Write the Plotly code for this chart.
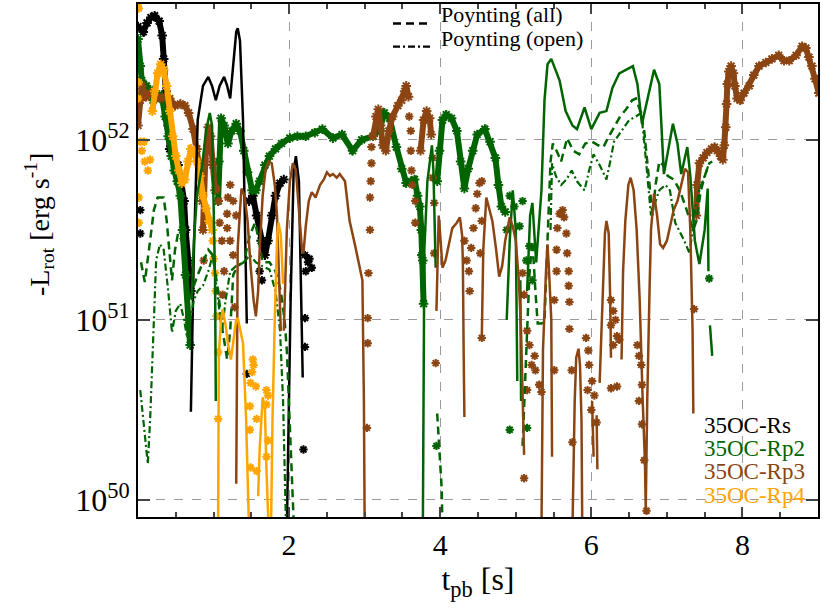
import plotly.graph_objects as go

# t_pb [s] and log10(-L_rot [erg/s]); None = curve leaves the range

# 35OC-Rs (black)
rs_trail_t = [0.00, 0.07, 0.12, 0.17, 0.22, 0.28, 0.32, 0.34, 0.37, 0.40, 0.42, 0.48, 0.53, 0.57, 0.61, 0.63, 0.66, 0.70, None,
              1.47, 1.52, 1.57, 1.63, 1.68, 1.72, 1.77, 1.82, 1.88, 1.93]
rs_trail_lg = [52.63, 52.60, 52.65, 52.68, 52.69, 52.66, 52.58, 52.45, 52.27, 52.08, 51.95, 51.91, 51.86, 51.77, 51.66, 51.50, 51.33, 51.16, None,
               51.66, 51.69, 51.58, 51.44, 51.36, 51.44, 51.58, 51.69, 51.76, 51.78]
rs_dots_t = [0.03, 0.03, 1.44, 1.61, 1.64, 2.21, 2.25, 2.27, 2.30, 2.22, 2.21, 2.21, 2.19]
rs_dots_lg = [51.61, 51.48, 50.70, 51.27, 51.22, 51.36, 51.32, 51.34, 51.29, 51.27, 51.01, 50.85, 50.28]
rs_line_t = [0.70, 0.74, 0.79, 0.86, 0.93, 0.98, 1.03, 1.08, 1.14, 1.18, 1.22, 1.26, 1.30, 1.32, 1.35, 1.39, 1.41, 1.44, None,
             1.97, 2.02, 2.06, 2.09, 2.13, 2.15, 2.18]
rs_line_lg = [50.49, 51.39, 52.11, 52.30, 52.35, 52.30, 52.22, 52.30, 52.35, 52.30, 52.23, 52.44, 52.60, 52.62, 52.55, 52.11, 51.66, 50.98, None,
              49.83, 51.11, 51.83, 51.91, 51.77, 51.33, 50.68]

# 35OC-Rp2 (green)
rp2_trail_t = [0.00, 0.03, 0.05, 0.11, 0.16, 0.20, 0.24, 0.28, 0.32, 0.36, 0.40, 0.44, 0.48, 0.52, 0.56, 0.59, 0.63, 0.67, 0.69, None,
               1.06, 1.07, 1.10, 1.14, 1.19, 1.24, 1.30, 1.35, 1.40, 1.45, 1.51, 1.56, 1.61, 1.68, 1.74, 1.82, 1.90, 2.01, 2.11, 2.22,
               2.34, 2.44, 2.58, 2.70, 2.84, 2.96, 3.11, 3.20, 3.26, 3.33, 3.42, 3.49, 3.55, 3.61, 3.66, 3.70, 3.73, 3.75, 3.77, 3.78, None,
               3.96, 3.99, 4.03, 4.08, 4.15, 4.22, 4.27, 4.32, 4.37, 4.43, 4.49, 4.59, 4.66, 4.73, 4.77, 4.81, 4.86]
rp2_trail_lg = [52.56, 52.41, 52.33, 52.30, 52.28, 52.22, 52.23, 52.25, 52.23, 52.13, 52.02, 51.91, 51.83, 51.77, 51.69, 51.50, 51.25, 51.00, 50.86, None,
                51.66, 51.88, 52.12, 52.08, 51.98, 52.05, 52.09, 52.05, 51.94, 51.82, 51.72, 51.72, 51.77, 51.86, 51.91, 51.95, 51.98, 52.01, 52.02, 52.02,
                52.04, 52.06, 52.01, 52.03, 51.94, 52.00, 52.02, 52.06, 52.15, 52.12, 51.96, 51.84, 51.76, 51.77, 51.78, 51.69, 51.63, 51.50, 51.33, 51.09, None,
                51.77, 51.94, 52.11, 52.14, 52.12, 52.05, 51.88, 51.73, 51.84, 51.94, 52.03, 52.06, 51.99, 51.90, 51.75, 51.63, 51.60]
rp2_dots_t = [4.92, 4.98, 5.05, 5.14, 5.18, 5.22, 5.09, 4.88, 4.92, 5.15, 3.95, 7.56, 3.75]
rp2_dots_lg = [51.69, 51.63, 51.52, 51.33, 51.41, 51.22, 51.66, 51.50, 50.39, 50.40, 50.30, 51.23, 51.36]
rp2_line_t = [0.71, 0.74, 0.78, 0.85, 0.90, 0.95, 0.98, 1.00, 1.02, 1.03, None,
              3.77, 3.78, 3.79, 3.83, 3.89, 3.91, 3.92, 3.94, None,
              4.88, 4.92, 4.96, 5.00, 5.02, None,
              5.06, 5.07, None,
              5.15, 5.19, 5.22, 5.25, 5.27, 5.31, 5.34, 5.38, 5.42, 5.47, 5.52, 5.58, 5.66, 5.75, 5.81, 5.91, 6.00, 6.11, 6.20, 6.28,
              6.37, 6.50, 6.55, 6.61, 6.67, 6.74, 6.83, 6.90, 6.96, 7.08, 7.14, 7.19, 7.27, 7.31, 7.37, 7.43, 7.50, 7.54, 7.55, None,
              7.57, 7.60]
rp2_line_lg = [51.11, 51.44, 51.69, 51.86, 52.05, 52.15, 52.08, 51.72, 51.22, 50.55, None,
               49.83, 50.48, 51.39, 51.77, 51.97, 51.83, 51.59, 51.29, None,
               51.00, 51.44, 51.72, 51.50, 50.66, None,
               51.22, 50.55, None,
               51.16, 51.58, 51.65, 51.44, 51.32, 51.55, 51.72, 52.22, 52.42, 52.45, 52.39, 52.33, 52.16, 52.08, 52.06, 52.18, 52.06, 52.15, 52.16, 52.29,
               52.37, 52.40, 52.41, 52.31, 52.09, 52.22, 52.39, 52.31, 51.81, 52.09, 51.98, 51.81, 51.96, 51.80, 51.44, 51.31, 51.50, 51.73, 51.27, None,
               50.97, 50.80]
rp2_all_t = [0.04, 0.09, 0.16, 0.21, 0.26, 0.34, 0.38, 0.42, 0.45, 0.49, 0.53, 0.58, 0.63, 0.69, 0.74, 0.79, 0.86, 0.93, 0.99, 1.06,
             1.12, 1.18, 1.22, 1.26, 1.32, 1.40, 1.48, 1.55, 1.60, 1.65, 1.74, 1.82, 1.89, 1.94, 1.97, 2.01, 2.04, 2.07, None,
             3.96, 3.99, 4.02, 4.03, None,
             5.09, 5.11, 5.14, 5.18, 5.22, 5.26, 5.29, 5.34, 5.38, 5.42, 5.46, 5.49, 5.54, 5.60, 5.68, 5.76, 5.84, 5.92, 6.01, 6.09,
             6.16, 6.22, 6.30, 6.38, 6.46, 6.54, 6.59, 6.64, 6.70, 6.74, 6.78, 6.81, 6.85, 6.90, 6.95, 7.01, 7.09, 7.17, 7.23, 7.30,
             7.35, 7.39, 7.45, 7.51, 7.56, 7.60]
rp2_all_lg = [51.32, 51.21, 51.44, 51.61, 51.68, 51.68, 51.55, 51.36, 51.22, 51.39, 51.48, 51.44, 51.22, 51.11, 51.19, 51.25, 51.32, 51.39, 51.36, 51.16,
              50.94, 50.78, 50.94, 51.25, 51.30, 51.32, 51.47, 51.54, 51.44, 51.32, 51.32, 51.27, 51.16, 51.00, 50.83, 50.44, 50.17, 49.78, None,
              50.48, 50.28, 50.06, 49.83, None,
              50.30, 50.55, 50.83, 51.25, 51.44, 51.16, 50.98, 50.98, 50.99, 51.44, 51.88, 51.98, 51.94, 51.88, 52.01, 51.94, 51.92, 51.98, 51.99, 51.97,
              51.96, 52.01, 52.07, 52.13, 52.17, 52.22, 52.23, 52.17, 52.05, 51.88, 51.72, 51.58, 51.75, 51.88, 51.86, 51.80, 51.78, 51.72, 51.65, 51.56,
              51.50, 51.55, 51.72, 51.81, 51.87, 51.88]
rp2_open_t = [0.03, 0.07, 0.11, 0.13, 0.16, 0.20, 0.24, 0.29, 0.34, 0.40, 0.45, 0.50, 0.56, 0.61, 0.65, 0.69, 0.74, 0.79, 0.86, 0.93,
              0.99, 1.06, 1.11, 1.16, 1.22, 1.30, 1.40, 1.48, 1.56, 1.64, 1.74, 1.82, 1.88, 1.92, 1.94, 1.96, None,
              5.46, 5.48, 5.53, 5.60, 5.67, 5.74, 5.81, 5.91, 5.97, 6.03, 6.11, 6.20, 6.25, 6.30, 6.40, 6.50, 6.59, 6.66, 6.70, 6.74,
              6.79, 6.85, 6.90, 6.98, 7.04, 7.11, 7.16, 7.23, 7.30, 7.34, 7.38, 7.43, 7.49, 7.56]
rp2_open_lg = [50.61, 50.44, 50.28, 50.20, 50.44, 50.94, 51.33, 51.42, 51.39, 51.16, 50.93, 51.05, 51.09, 51.00, 50.90, 51.00, 51.11, 51.16, 51.19, 51.27,
               51.36, 51.11, 50.94, 51.11, 51.27, 51.30, 51.32, 51.36, 51.32, 51.30, 51.28, 51.16, 50.94, 50.55, 50.17, 49.83, None,
               51.50, 51.87, 51.80, 51.75, 51.78, 51.83, 51.77, 51.72, 51.83, 51.92, 51.86, 51.78, 51.88, 51.99, 52.05, 52.11, 52.13, 52.15, 51.99, 51.80,
               51.58, 51.66, 51.72, 51.75, 51.72, 51.54, 51.50, 51.44, 51.37, 51.50, 51.63, 51.72, 51.79, 51.87]

# 35OC-Rp3 (brown)
rp3_trail_t = [0.00, 0.03, 0.05, 0.11, 0.16, 0.22, 0.29, 0.36, 0.42, 0.49, 0.56, 0.62, 0.67, 0.73, 0.78, 0.82, 0.85, None,
               0.86, 0.89, 0.93, 0.96, 0.99, 1.02, None,
               3.11, 3.15, 3.18, 3.21, 3.24, 3.28, 3.32, 3.37, 3.44, 3.49, 3.53, 3.55, 3.58, None,
               3.74, 3.78, 3.82, 3.86, 3.88, None,
               7.39, 7.40, 7.43, 7.48, 7.53, 7.59, 7.63, 7.67, 7.71, 7.74, 7.76, 7.78, 7.79, 7.80, 7.82, 7.85, 7.88, 7.90, 7.93, 7.97,
               8.02, 8.09, 8.15, 8.22, 8.31, 8.39, 8.48, 8.55, 8.62, 8.71, 8.79, 8.84, 8.88, 8.92, 8.96, 9.01]
rp3_trail_lg = [52.08, 52.22, 52.30, 52.24, 52.26, 52.25, 52.23, 52.24, 52.23, 52.19, 52.20, 52.19, 52.15, 52.06, 51.95, 51.83, 51.66, None,
                51.50, 51.88, 52.07, 52.02, 51.86, 51.72, None,
                52.02, 52.13, 52.17, 52.08, 51.97, 51.94, 52.05, 52.13, 52.19, 52.22, 52.27, 52.30, 52.24, None,
                51.94, 52.11, 52.16, 52.12, 52.03, None,
                51.58, 51.75, 51.87, 51.90, 51.93, 51.95, 51.96, 51.94, 51.91, 51.89, 51.97, 52.07, 52.20, 52.31, 52.38, 52.41, 52.37, 52.30, 52.23, 52.22,
                52.26, 52.30, 52.36, 52.41, 52.43, 52.45, 52.47, 52.44, 52.44, 52.47, 52.52, 52.51, 52.46, 52.41, 52.34, 52.26]
rp3_dots_t = [0.87, 1.04, 1.07, 1.08, 1.11, 1.18, 1.18, 1.14, 1.12, 1.22, 1.26, 1.19, 1.28, 1.22, 1.26, 1.30,
              3.07, 3.05, 3.04, 3.04, 3.03, 3.07, 3.08, 3.09, 3.09,
              3.59, 3.61, 3.61, 3.62, 3.63, 3.67, 3.67, 3.90, 3.90, 3.92, 3.92, 3.94,
              4.32, 4.35, 4.38, 4.41, 4.44, 4.47, 4.49, 4.52, 4.55, 4.55, 4.53, 4.55, 4.39,
              5.09, 5.11, 5.15, 5.18, 5.21, 5.26, 5.31, 5.34, 5.15, 5.25, 5.11,
              5.51, 5.51, 5.54, 5.54, 5.55, 5.58, 5.62, 5.64, 5.67, 5.68, 5.70, 5.70, 5.71, 5.71, 5.74, 5.75,
              5.93, 5.96, 5.97, 5.95, 6.01, 6.04, 6.07, 6.00,
              6.26, 6.29, 6.32, 6.26, 6.34, 6.29, 6.37, 6.26, 6.34,
              6.61, 6.63, 6.66, 6.67, 6.63, 6.67, 6.70, 6.73, 7.36]
rp3_dots_lg = [51.33, 51.73, 51.66, 51.54, 51.44, 51.59, 51.51, 51.27, 51.14, 51.44, 51.36, 51.68, 51.07, 51.75, 51.66, 51.58,
               51.50, 51.26, 51.01, 50.87, 50.40, 51.68, 51.77, 51.87, 51.96,
               52.13, 52.05, 51.94, 51.83, 51.75, 51.66, 51.54, 51.90, 51.79, 51.65, 51.37, 50.76,
               51.44, 51.33, 51.27, 51.40, 51.51, 51.62, 51.70, 51.76, 51.77, 51.55, 51.37, 50.90, 51.16,
               51.26, 51.14, 50.94, 50.86, 50.75, 50.72, 50.64, 50.60, 50.61, 50.80, 50.12,
               50.72, 51.11, 51.27, 51.39, 51.51, 51.59, 51.61, 51.57, 51.48, 51.37, 51.27, 51.19, 51.10, 50.95, 50.72, 50.32,
               50.90, 50.83, 50.75, 50.61, 50.66, 50.58, 50.43, 50.50,
               51.11, 51.05, 51.00, 50.97, 50.91, 50.86, 50.89, 50.62, 50.63,
               50.86, 50.80, 50.75, 50.64, 50.55, 50.42, 50.22, 49.94, 51.06]
rp3_line_t = [1.30, 1.31, 1.32, 1.35, 1.37, 1.41, 1.45, 1.49, 1.53, 1.56, 1.59, 1.61, 1.65, 1.69, 1.73, 1.77, 1.81, 1.84, 1.86, 1.89, None,
              1.93, 1.97, 2.01, 2.05, 2.09, 2.13, 2.17, 2.19, 2.22, 2.26, 2.30, 2.35, 2.41, 2.46, 2.50, 2.54, 2.58, 2.63, 2.67, 2.74,
              2.80, 2.87, 2.93, 2.97, 2.99, 3.00, None,
              3.95, 3.98, 4.00, 4.03, 4.07, 4.11, 4.16, 4.22, 4.26, 4.29, 4.30, 4.31, 4.32, None,
              4.55, 4.57, 4.61, 4.65, 4.69, 4.74, 4.78, 4.82, 4.86, 4.92, 4.96, 5.00, 5.04, 5.07, 5.09, 5.11, None,
              5.34, 5.36, 5.40, 5.42, 5.44, 5.47, 5.48, None,
              5.75, 5.78, 5.80, 5.83, 5.85, 5.87, 5.88, None,
              6.01, 6.03, None,
              6.07, 6.08, None,
              6.11, 6.15, 6.18, 6.20, 6.23, 6.25, 6.26, None,
              6.40, 6.42, 6.45, 6.49, 6.52, 6.56, 6.60, 6.64, 6.68, 6.71, 6.72, 6.74, 6.77, 6.79, 6.83, 6.87, 6.91, 6.95, 7.00, 7.04,
              7.09, 7.14, 7.19, 7.24, 7.28, 7.31, 7.34, 7.35]
rp3_line_lg = [50.09, 51.11, 51.40, 51.61, 51.73, 51.69, 51.55, 51.30, 51.11, 51.02, 51.16, 51.39, 51.69, 51.84, 51.88, 51.87, 51.75, 51.58, 51.33, 50.94, None,
               50.94, 51.50, 51.77, 51.87, 51.83, 51.61, 51.39, 51.37, 51.52, 51.66, 51.71, 51.68, 51.75, 51.78, 51.82, 51.80, 51.81, 51.79, 51.81, 51.77,
               51.55, 51.42, 51.29, 51.22, 50.55, 49.83, None,
               51.05, 51.58, 51.47, 51.29, 51.33, 51.41, 51.51, 51.54, 51.57, 51.47, 51.31, 50.83, 50.46, None,
               50.90, 51.39, 51.68, 51.62, 51.55, 51.39, 51.24, 51.30, 51.44, 51.57, 51.52, 51.44, 51.22, 50.94, 50.55, 50.25, None,
               49.83, 50.83, 51.27, 51.42, 51.27, 51.00, 50.24, None,
               49.83, 50.55, 50.79, 50.84, 50.75, 50.44, 49.83, None,
               50.55, 50.24, None,
               50.47, 50.17, None,
               50.65, 51.16, 51.48, 51.55, 51.48, 51.11, 50.79, None,
               50.78, 51.27, 51.55, 51.75, 51.79, 51.72, 51.50, 51.11, 50.55, 50.20, 49.94, 50.55, 51.16, 51.50, 51.70, 51.58, 51.42, 51.40, 51.44, 51.52,
               51.61, 51.66, 51.75, 51.84, 51.82, 51.50, 50.94, 50.48]

# 35OC-Rp4 (orange)
rp4_trail_t = [0.19, 0.22, 0.26, 0.30, 0.34, 0.38, 0.42, 0.46, 0.50, 0.54, 0.58, 0.62, 0.66, 0.70, 0.74, 0.78, 0.82, 0.86, 0.90, 0.94, 0.98]
rp4_trail_lg = [52.16, 52.27, 52.37, 52.42, 52.39, 52.30, 52.16, 52.02, 51.91, 51.83, 51.76, 51.78, 51.88, 51.95, 51.94, 51.88, 51.80, 51.69, 51.62, 51.55, 51.50]
rp4_dots_t = [0.00, 0.01, 0.00, 0.01, 0.03, 0.05, 0.09, 0.13, 0.16, 0.08, 0.01, 0.01,
              0.99, 1.00, 1.02, 1.03, 1.04, 1.06, 1.06,
              1.52, 1.53, 1.51, 1.49, 1.56, 1.48, 1.57, 1.48, 1.57, 1.49, 1.70, 1.72, 1.70, 1.72, 1.70]
rp4_dots_lg = [52.74, 52.73, 52.23, 52.32, 51.99, 51.94, 51.88, 51.83, 51.89, 51.99, 51.68, 51.54,
               51.44, 51.34, 51.26, 51.16, 51.02, 50.82, 50.45,
               50.78, 50.75, 50.71, 50.65, 50.63, 50.52, 50.45, 50.39, 50.16, 50.18, 50.61, 50.58, 50.53, 50.33, 50.24]
rp4_line_t = [1.06, 1.07, 1.10, 1.12, 1.16, 1.19, 1.23, 1.27, 1.30, 1.32, 1.36, 1.39, 1.43, 1.47, None,
              1.59, 1.61, 1.65, 1.68, 1.70, 1.73, None,
              1.76, 1.78, 1.81, 1.84, 1.86, 1.89, 1.92]
rp4_line_lg = [49.83, 50.81, 51.00, 51.06, 50.97, 50.87, 50.78, 50.91, 51.00, 51.01, 50.94, 50.87, 50.46, 49.83, None,
               50.02, 50.28, 50.57, 50.50, 50.17, 49.83, None,
               49.83, 50.44, 51.00, 51.44, 51.54, 51.47, 51.20]

models = ["35OC-Rs", "35OC-Rp2", "35OC-Rp3", "35OC-Rp4"]
colors = ["#000000", "#006400", "#8B4513", "#FFA500"]

FONT = "Liberation Serif"


def lum(vals):
    return [None if v is None else 10.0 ** v for v in vals]


fig = go.Figure()


def add_points(t, lg, c):
    fig.add_trace(go.Scatter(x=t, y=lum(lg), mode="markers", showlegend=False,
                             marker=dict(symbol="asterisk-open", size=7, color=c, line=dict(color=c, width=2))))


def add_trail(t, lg, c):
    fig.add_trace(go.Scatter(x=t, y=lum(lg), mode="lines+markers", showlegend=False,
                             line=dict(color=c, width=6),
                             marker=dict(symbol="asterisk-open", size=8, color=c, line=dict(color=c, width=2))))


def add_line(t, lg, c, dash="solid", w=2.5):
    fig.add_trace(go.Scatter(x=t, y=lum(lg), mode="lines", showlegend=False,
                             line=dict(color=c, width=w, dash=dash)))


# markers: total luminosity, lines: other estimates
add_trail(rs_trail_t, rs_trail_lg, colors[0])
add_points(rs_dots_t, rs_dots_lg, colors[0])
add_trail(rp2_trail_t, rp2_trail_lg, colors[1])
add_points(rp2_dots_t, rp2_dots_lg, colors[1])
add_trail(rp3_trail_t, rp3_trail_lg, colors[2])
add_points(rp3_dots_t, rp3_dots_lg, colors[2])
add_trail(rp4_trail_t, rp4_trail_lg, colors[3])
add_points(rp4_dots_t, rp4_dots_lg, colors[3])

add_line(rs_line_t, rs_line_lg, colors[0])
add_line(rp2_line_t, rp2_line_lg, colors[1])
add_line(rp2_all_t, rp2_all_lg, colors[1], dash="8px,5px")
add_line(rp2_open_t, rp2_open_lg, colors[1], dash="7px,3px,2px,3px", w=2.2)
add_line(rp3_line_t, rp3_line_lg, colors[2])
add_line(rp4_line_t, rp4_line_lg, colors[3])

# white boxes behind the two legends (hide grid lines there)
fig.add_shape(type="rect", xref="paper", yref="paper", x0=0.362, x1=0.655, y0=0.905, y1=1.0,
              fillcolor="white", line_width=0, layer="between")
fig.add_shape(type="rect", xref="paper", yref="paper", x0=0.800, x1=1.0, y0=0.0, y1=0.197,
              fillcolor="white", line_width=0, layer="between")

# line-style legend
fig.add_shape(type="line", xref="paper", yref="paper", x0=0.375, x1=0.432, y0=0.962, y1=0.962,
              line=dict(color="black", width=2.5, dash="8px,5px"))
fig.add_shape(type="line", xref="paper", yref="paper", x0=0.375, x1=0.432, y0=0.917, y1=0.917,
              line=dict(color="black", width=2.2, dash="7px,3px,2px,3px"))
fig.add_annotation(xref="paper", yref="paper", x=0.442, y=0.979, xanchor="left", yanchor="middle",
                   text="Poynting (all)", showarrow=False, font=dict(family=FONT, size=22, color="black"))
fig.add_annotation(xref="paper", yref="paper", x=0.442, y=0.932, xanchor="left", yanchor="middle",
                   text="Poynting (open)", showarrow=False, font=dict(family=FONT, size=22, color="black"))

# model legend
for i, (name, c) in enumerate(zip(models, colors)):
    fig.add_annotation(xref="paper", yref="paper", x=0.829, y=0.179 - i * 0.0455, xanchor="left", yanchor="middle",
                       text=name, showarrow=False, font=dict(family=FONT, size=23, color=c))

# y-axis title (sits above the centre in the original)
fig.add_annotation(xref="paper", yref="paper", x=-0.145, y=0.57, xanchor="center", yanchor="middle",
                   textangle=-90, text="-L<sub>rot</sub> [erg s<sup>-1</sup>]", showarrow=False,
                   font=dict(family=FONT, size=28, color="black"))

fig.update_layout(
    width=822, height=609,
    margin=dict(l=138, r=2, t=3, b=92),
    paper_bgcolor="white", plot_bgcolor="white",
    font=dict(family=FONT, color="black"),
    showlegend=False,
    xaxis=dict(
        range=[0, 9.0], tickvals=[2, 4, 6, 8], ticks="inside", ticklen=10, tickwidth=1.5,
        minor=dict(dtick=0.5, tick0=0, ticks="inside", ticklen=5, tickwidth=1.5, showgrid=False),
        showline=True, linewidth=2, linecolor="black", mirror="ticks",
        showgrid=True, gridcolor="#9a9a9a", griddash="dash", gridwidth=1, zeroline=False,
        tickfont=dict(family=FONT, size=30),
        title=dict(text="t<sub>pb</sub> [s]", font=dict(family=FONT, size=32), standoff=8),
    ),
    yaxis=dict(
        type="log", range=[49.905, 52.755],
        tickvals=[1e50, 1e51, 1e52], ticktext=["10<sup>50</sup>", "10<sup>51</sup>", "10<sup>52</sup>"],
        ticks="inside", ticklen=12, tickwidth=1.5,
        showline=True, linewidth=2, linecolor="black", mirror="ticks",
        showgrid=True, gridcolor="#9a9a9a", griddash="dash", gridwidth=1, zeroline=False,
        tickfont=dict(family=FONT, size=32),
    ),
)

# the page's default body margin would shift the figure off the window
fig.write_html("out.html", config={"displayModeBar": False},
               post_script="document.body.style.margin='0px';")
